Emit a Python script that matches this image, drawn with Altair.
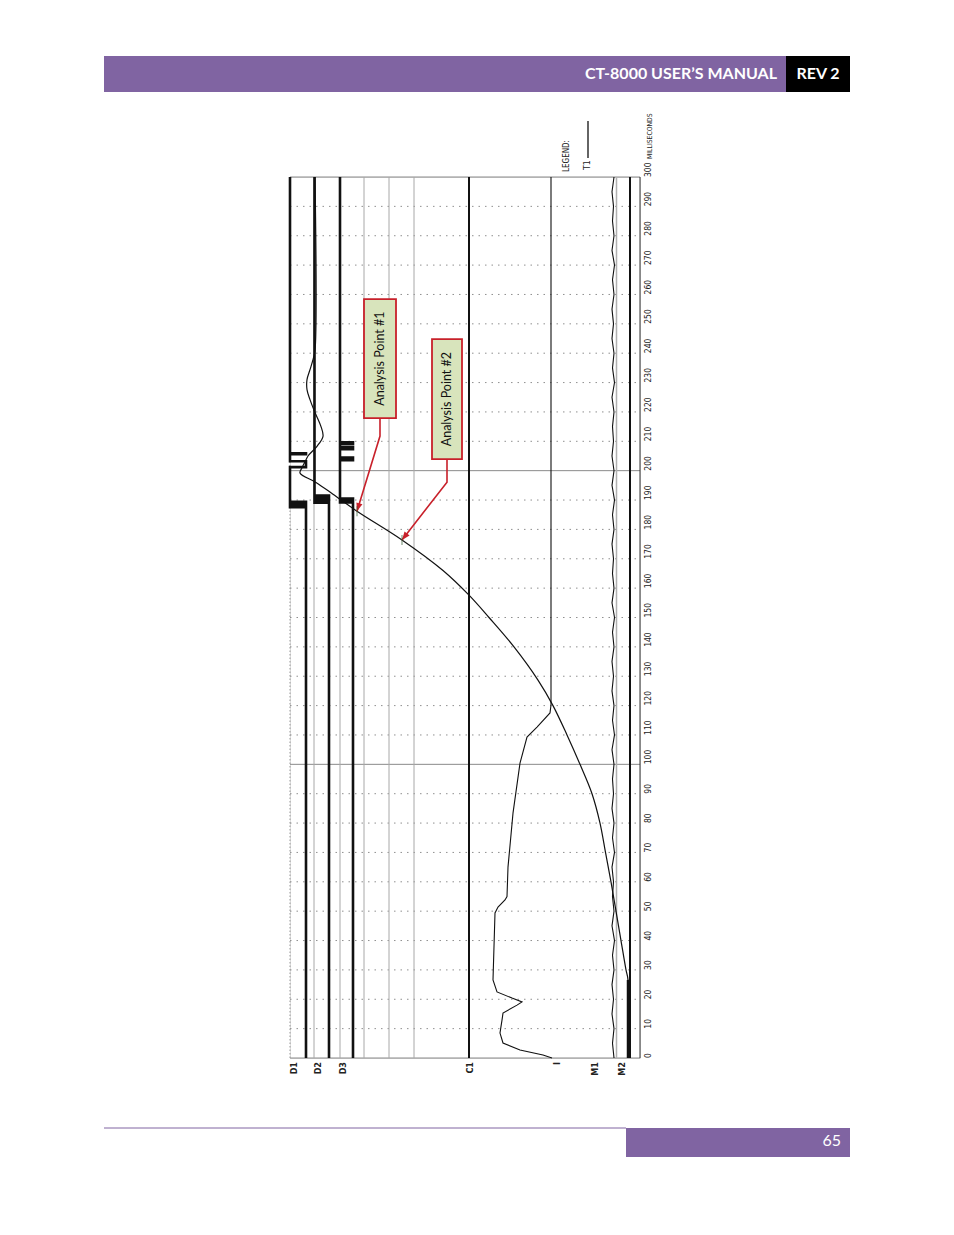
import math
import altair as alt
import pandas as pd

# ---------------- values ----------------
tick_ms = list(range(0, 301, 10))          # time axis ticks (ms)
solid_ms = [0, 100, 200, 300]              # solid grid lines

chan_names = ["D1", "D2", "D3", "C1", "I", "M1", "M2"]
chan_label_u = [4, 28, 53, 180, 267, 305, 332]

ref_gray_u = [24, 50, 74, 99, 124]         # thin gray channel baselines
c1_u = [179]
m1_base_u = [326.5]
m2_u = [340]

# digital contact channels (step traces)
d1_t = [0, 187.6, 187.6, 188.1, 188.1, 188.6, 188.6, 189.1, 189.1, 189.4, 189.4, 201.2, 201.2, 203.2, 203.2, 205.6, 205.6, 205.9, 205.9, 300]
d1_u = [16, 16, 0, 0, 16, 16, 0, 0, 16, 16, 0, 0, 16, 16, 0, 0, 16, 16, 0, 0]
d2_t = [0, 189.1, 189.1, 189.7, 189.7, 190.3, 190.3, 190.9, 190.9, 191.5, 191.5, 300]
d2_u = [39, 39, 24.5, 24.5, 39, 39, 24.5, 24.5, 39, 39, 24.5, 24.5]
d3_t = [0, 189.2, 189.2, 189.8, 189.8, 190.5, 190.5, 203.6, 203.6, 204.5, 204.5, 207.3, 207.3, 208.1, 208.1, 209.2, 209.2, 209.7, 209.7, 300]
d3_u = [63, 63, 50, 50, 63, 63, 50, 50, 63, 63, 50, 50, 63, 63, 50, 50, 63, 63, 50, 50]

# T1 travel trace
t1_t = [0, 26.6, 30, 40, 50, 60, 70, 80, 90, 100, 110, 120, 128.7, 140, 150, 157.6, 166, 176.4, 186.2,
        192, 196, 199.2, 201, 203, 205, 208.3, 211.7, 215, 219.8, 224.2, 227.6, 231, 234.4, 237.8, 241, 300]
t1_u = [338, 338, 336, 331, 326, 321, 315.5, 310, 302, 290, 277, 263, 248, 224, 199, 179, 153, 112, 67,
        43, 26, 10, 12, 15, 18, 27, 33, 31, 25, 20, 17, 17, 20, 23, 25, 25]

# I (current) trace
i_t = [0, 1, 2.7, 5.1, 8.5, 12.9, 15.3, 18, 19.1, 20.4, 22.5, 26.6, 49.4, 51.4, 53.8, 55, 65, 83.4, 100.4, 109.3, 112.7, 117.5, 120.2, 300]
i_u = [262, 253, 230, 213, 210, 212, 213, 227, 232, 222, 207, 203, 205, 208, 215, 217, 218, 223, 230, 237, 247, 260, 261, 261]

# M1 trace, sampled every 5 ms
m1_u = [324, 322.5, 324, 322, 323.5, 322, 324, 322.5, 324.5, 322, 324, 322.5, 323.5, 322, 324.5, 322.5,
        324, 322, 323.5, 322.5, 324, 322, 324.5, 322.5, 324, 322, 323.5, 322, 324, 322.5, 324.5, 322,
        324, 322.5, 323.5, 322, 324, 322.5, 324.5, 322, 324, 322, 323.5, 322.5, 324, 322, 324.5, 322.5,
        324, 322, 323.5, 322, 324, 322.5, 324.5, 322, 324, 322.5, 323.5, 322, 324]
m1_t = [5 * i for i in range(len(m1_u))]

# analysis point annotations (chart units)
ap_labels = ["Analysis Point #1", "Analysis Point #2"]
ap_box_u0 = [74, 142]
ap_box_u1 = [106, 172]
ap_box_t0 = [217.9, 203.9]
ap_box_t1 = [258.4, 244.8]
ap_elbow_t = [211.8, 196.1]
ap_tip_u = [67, 112]
ap_tip_t = [186.2, 176.4]

# ---------------- layout ----------------
W, H = 350, 881
U0, U1, T0, T1 = 0, 350, 0, 300
xs = alt.Scale(domain=[U0, U1], nice=False, zero=False)
ys = alt.Scale(domain=[T0, T1], nice=False, zero=False)
SMALL_FONT = "Liberation Sans Narrow, DejaVu Sans Condensed, Liberation Sans, sans-serif"
PURPLE = "#8064a2"
RED = "#c8202a"

one = pd.DataFrame({"k": [0]})

def X(f="u"):
    return alt.X(f"{f}:Q", scale=xs, axis=None)

def Y(f="t"):
    return alt.Y(f"{f}:Q", scale=ys, axis=None)

# grid
minor = pd.DataFrame({"t": [t for t in tick_ms if t not in solid_ms]})
grid_minor = alt.Chart(minor).mark_rule(color="#8f8f8f", strokeDash=[1.5, 5], strokeWidth=1).encode(
    y=Y(), x=alt.X(datum=U0, scale=xs, axis=None), x2=alt.X2(datum=U1))
grid_solid = alt.Chart(pd.DataFrame({"t": solid_ms})).mark_rule(color="#8a8a8a", strokeWidth=1).encode(
    y=Y(), x=alt.X(datum=U0, scale=xs, axis=None), x2=alt.X2(datum=U1))

# time tick labels (right of the frame, rotated)
tick_lbl = alt.Chart(pd.DataFrame({"t": tick_ms, "s": [str(t) for t in tick_ms]})).mark_text(
    angle=270, align="left", baseline="top", font=SMALL_FONT, fontSize=8.5, color="#222").encode(
    y=Y(), x=alt.value(W + 4), text="s:N")

vgray = alt.Chart(pd.DataFrame({"u": ref_gray_u})).mark_rule(color="#a8a8a8", strokeWidth=1).encode(
    x=X(), y=alt.Y(datum=T0, scale=ys, axis=None), y2=alt.Y2(datum=T1))
left_frame = alt.Chart(pd.DataFrame({"u": [U0]})).mark_rule(color="#999", strokeDash=[1.5, 2], strokeWidth=1).encode(
    x=X(), y=alt.Y(datum=T0, scale=ys, axis=None), y2=alt.Y2(datum=T1))
right_frame = alt.Chart(pd.DataFrame({"u": [U1]})).mark_rule(color="#333", strokeWidth=1).encode(
    x=X(), y=alt.Y(datum=T0, scale=ys, axis=None), y2=alt.Y2(datum=T1))
m1_base = alt.Chart(pd.DataFrame({"u": m1_base_u})).mark_rule(color="#b0b0b0", strokeWidth=1.5).encode(
    x=X(), y=alt.Y(datum=T0, scale=ys, axis=None), y2=alt.Y2(datum=T1))
thick = alt.Chart(pd.DataFrame({"u": c1_u + m2_u})).mark_rule(color="#111", strokeWidth=2).encode(
    x=X(), y=alt.Y(datum=T0, scale=ys, axis=None), y2=alt.Y2(datum=T1))

# digital traces
dig = pd.concat([
    pd.DataFrame({"ch": "D1", "t": d1_t, "u": d1_u, "i": range(len(d1_t))}),
    pd.DataFrame({"ch": "D2", "t": d2_t, "u": d2_u, "i": range(len(d2_t))}),
    pd.DataFrame({"ch": "D3", "t": d3_t, "u": d3_u, "i": range(len(d3_t))}),
])
dig_lines = alt.Chart(dig).mark_line(color="#111", strokeWidth=2.6).encode(
    x=X(), y=Y(), detail="ch:N", order="i:Q")

def trace(ts, us, w=1.1, interp="linear"):
    df = pd.DataFrame({"t": ts, "u": us, "i": range(len(ts))})
    return alt.Chart(df).mark_line(color="#111", strokeWidth=w, interpolate=interp).encode(
        x=X(), y=Y(), order="i:Q")

t1_line = trace(t1_t, t1_u, 1.2, "catmull-rom")
i_line = trace(i_t, i_u, 1.1)
m1_line = trace(m1_t, m1_u, 1.1)
t1_start = trace(t1_t[:2], t1_u[:2], 2.5)

# channel labels under the frame
chan_lbl = alt.Chart(pd.DataFrame({"u": chan_label_u, "name": chan_names})).mark_text(
    angle=270, align="right", baseline="middle", font=SMALL_FONT, fontSize=9, fontWeight="bold",
    color="#222").encode(x=X(), y=alt.value(H + 4), text="name:N")

# annotations
ap = pd.DataFrame({"label": ap_labels, "u0": ap_box_u0, "u1": ap_box_u1, "t0": ap_box_t0, "t1": ap_box_t1})
ap["uc"] = (ap["u0"] + ap["u1"]) / 2
ap["tc"] = (ap["t0"] + ap["t1"]) / 2
boxes = alt.Chart(ap).mark_rect(fill="#d8e4bc", stroke=RED, strokeWidth=1.8).encode(
    x=X("u0"), x2="u1:Q", y=Y("t0"), y2="t1:Q")
box_txt = alt.Chart(ap).mark_text(angle=270, align="center", baseline="middle", font="Lato",
                                   fontSize=12.5, color="#111").encode(x=X("uc"), y=Y("tc"), text="label:N")
lead_rows = []
arrow_rows = []
kx = W / (U1 - U0)
ky = H / (T1 - T0)
for n in range(len(ap_labels)):
    uc = (ap_box_u0[n] + ap_box_u1[n]) / 2
    pts = [(uc, ap_box_t0[n]), (uc, ap_elbow_t[n]), (ap_tip_u[n], ap_tip_t[n])]
    for j, (u, t) in enumerate(pts):
        lead_rows.append({"g": n, "i": j, "u": u, "t": t})
    dx = (ap_tip_u[n] - uc) * kx
    dy = -(ap_tip_t[n] - ap_elbow_t[n]) * ky
    ang = math.degrees(math.atan2(-dx, dy)) % 360
    arrow_rows.append({"u": ap_tip_u[n], "t": ap_tip_t[n], "ang": ang})
leaders = alt.Chart(pd.DataFrame(lead_rows)).mark_line(color=RED, strokeWidth=1.6).encode(
    x=X(), y=Y(), detail="g:N", order="i:Q")
heads = alt.Chart(pd.DataFrame(arrow_rows)).mark_point(
    shape="M0,0 L-0.5,-1.3 L0.5,-1.3 Z", filled=True, color=RED, size=160, opacity=1).encode(
    x=X(), y=Y(), angle=alt.Angle("ang:Q", scale=None))
tips = alt.Chart(pd.DataFrame(arrow_rows)).mark_tick(color="#2d5a2d", thickness=1, size=10).encode(
    x=X(), y=Y())

# legend / axis title above the frame
top_txt = alt.Chart(pd.DataFrame({"txt": ["LEGEND:", "T1", "MILLISECONDS"],
                                  "px": [277, 297, 360], "py": [-5, -7, -18],
                                  "fs": [8, 8.5, 6.8]})).mark_text(
    angle=270, align="left", baseline="middle", font=SMALL_FONT, color="#222").encode(
    x=alt.X("px:Q", scale=None), y=alt.Y("py:Q", scale=None), text="txt:N",
    size=alt.Size("fs:Q", scale=None))
legend_line = alt.Chart(one).mark_rule(color="#111", strokeWidth=1.3).encode(
    x=alt.value(298), y=alt.value(-19), y2=alt.value(-56))

# page header / footer
hdr = alt.Chart(one).mark_rect(color=PURPLE).encode(
    x=alt.value(-186), x2=alt.value(496), y=alt.value(-121), y2=alt.value(-85))
hdr_black = alt.Chart(one).mark_rect(color="#000").encode(
    x=alt.value(496), x2=alt.value(560), y=alt.value(-121), y2=alt.value(-85))
hdr_txt = alt.Chart(one).mark_text(text="CT-8000 USER\u2019S MANUAL", font="Lato", fontWeight="bold",
                                   fontSize=16, color="white", align="right", baseline="middle").encode(
    x=alt.value(487), y=alt.value(-103))
rev_txt = alt.Chart(one).mark_text(text="REV 2", font="Lato", fontWeight="bold", fontSize=16,
                                   color="white", align="center", baseline="middle").encode(
    x=alt.value(528), y=alt.value(-103))
ftr_line = alt.Chart(one).mark_rule(color=PURPLE, strokeWidth=1).encode(
    x=alt.value(-186), x2=alt.value(336), y=alt.value(951))
ftr_box = alt.Chart(one).mark_rect(color=PURPLE).encode(
    x=alt.value(336), x2=alt.value(560), y=alt.value(951), y2=alt.value(980))
ftr_txt = alt.Chart(one).mark_text(text="65", font="Lato", fontSize=16, color="white",
                                   align="right", baseline="middle").encode(
    x=alt.value(551), y=alt.value(964))

chart = alt.layer(
    hdr, hdr_black, hdr_txt, rev_txt, ftr_line, ftr_box, ftr_txt,
    grid_minor, grid_solid, vgray, left_frame, m1_base, thick, right_frame,
    dig_lines, t1_start, t1_line, i_line, m1_line, tick_lbl,
    chan_lbl, boxes, box_txt, leaders, heads, tips, top_txt, legend_line,
).properties(
    width=W, height=H,
    padding={"left": 282, "top": 169, "right": 298, "bottom": 160},
    autosize=alt.AutoSizeParams(type="none"),
).configure_view(stroke=None).configure(background="white")

chart.save("out.html", embed_options={"renderer": "svg", "actions": False})
